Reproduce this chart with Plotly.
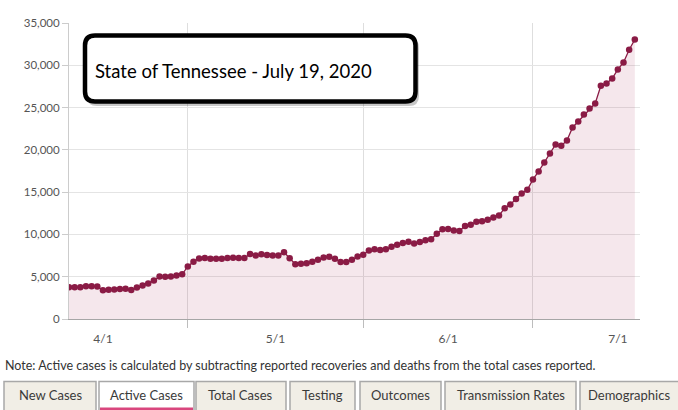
import pandas as pd
import plotly.graph_objects as go

# ---------------- data ----------------
start_date = "2020-04-10"
end_date = "2020-07-19"
active_april = [3740, 3740, 3750, 3860, 3870, 3850, 3400, 3450, 3480, 3560, 3570,
                3430, 3720, 3950, 4200, 4550, 5020, 5010, 5020, 5140, 5290]
active_may = [6220, 6770, 7150, 7200, 7130, 7130, 7130, 7200, 7240, 7210, 7210,
              7680, 7520, 7650, 7560, 7520, 7520, 7900, 7180, 6480, 6520, 6600,
              6780, 7010, 7270, 7360, 7130, 6750, 6750, 7010, 7380]
active_june = [7600, 8100, 8250, 8150, 8250, 8550, 8780, 9000, 9130, 8920, 9100,
               9300, 9420, 10080, 10600, 10650, 10450, 10420, 11000, 11150, 11500,
               11550, 11750, 12000, 12250, 13100, 13550, 14200, 14850, 15280]
active_july = [16500, 17450, 18510, 19580, 20640, 20480, 21110, 22650, 23360, 24190,
               24900, 25490, 27580, 27850, 28440, 29510, 30330, 31830, 33050]
y_ticks = [0, 5000, 10000, 15000, 20000, 25000, 30000, 35000]
title_text = "State of Tennessee - July 19, 2020"
note_text = ("Note: Active cases is calculated by subtracting reported recoveries "
             "and deaths from the total cases reported.")
tab_labels = ["New Cases", "Active Cases", "Total Cases", "Testing", "Outcomes",
              "Transmission Rates", "Demographics"]
active_tab = "Active Cases"

dates = pd.date_range(start_date, end_date, freq="D")
active = active_april + active_may + active_june + active_july

# ---------------- layout helpers (pixel -> paper) ----------------
W, H = 678, 410
ML, MR, MT, MB = 69, 38, 23, 91
PW, PH = W - ML - MR, H - MT - MB


def px(x):
    return (x - ML) / PW


def py(y):
    return (H - MB - y) / PH


def rounded_path(x0, y0, x1, y1, r):
    pts = [
        ("M", [(x0 + r, y0)]),
        ("L", [(x1 - r, y0)]),
        ("Q", [(x1, y0), (x1, y0 + r)]),
        ("L", [(x1, y1 - r)]),
        ("Q", [(x1, y1), (x1 - r, y1)]),
        ("L", [(x0 + r, y1)]),
        ("Q", [(x0, y1), (x0, y1 - r)]),
        ("L", [(x0, y0 + r)]),
        ("Q", [(x0, y0), (x0 + r, y0)]),
    ]
    s = ""
    for cmd, ps in pts:
        s += cmd + " " + " ".join(f"{px(a):.5f},{py(b):.5f}" for a, b in ps) + " "
    return s + "Z"


fig = go.Figure()
fig.add_trace(go.Scatter(
    x=dates, y=active, mode="lines+markers",
    line=dict(color="#8a1b45", width=1.3),
    marker=dict(color="#8a1b45", size=6.5),
    fill="tozeroy", fillcolor="rgba(170,60,100,0.12)",
    hoverinfo="x+y", showlegend=False,
))

shapes = []
# title box shadow and box
shapes.append(dict(type="path", xref="paper", yref="paper",
                   path=rounded_path(87, 38, 419, 106, 10),
                   fillcolor="rgba(0,0,0,0.22)", line=dict(width=0), layer="above"))
shapes.append(dict(type="path", xref="paper", yref="paper",
                   path=rounded_path(85, 35.5, 415.5, 101.5, 10),
                   fillcolor="white", line=dict(color="black", width=4.5), layer="above"))

# tabs
tab_edges = [(4, 96), (99, 194), (196, 286), (290, 355), (360, 441), (445, 576), (580, 682)]
annotations = []
for (a, b), lab in zip(tab_edges, tab_labels):
    is_active = lab == active_tab
    shapes.append(dict(type="rect", xref="paper", yref="paper",
                       x0=px(a), x1=px(b), y0=py(415), y1=py(381.5),
                       fillcolor="white" if is_active else "#f1eee6",
                       line=dict(color="#a8a8a8", width=1.5), layer="above"))
    if is_active:
        shapes.append(dict(type="rect", xref="paper", yref="paper",
                           x0=px(a + 1), x1=px(b - 1), y0=py(410), y1=py(407.5),
                           fillcolor="#d9467e", line=dict(width=0), layer="above"))
    annotations.append(dict(xref="paper", yref="paper", x=px((a + min(b, W)) / 2), y=py(395),
                            text=lab, showarrow=False, xanchor="center", yanchor="middle",
                            font=dict(family="Lato, Noto Sans, sans-serif", size=13, color="#3a3a3a")))

annotations.append(dict(xref="paper", yref="paper", x=px(93), y=py(70.5),
                        text=title_text, showarrow=False, xanchor="left", yanchor="middle",
                        font=dict(family="Lato, Noto Sans, sans-serif", size=18.5, color="black")))
annotations.append(dict(xref="paper", yref="paper", x=px(3), y=py(365),
                        text=note_text, showarrow=False, xanchor="left", yanchor="middle",
                        font=dict(family="Lato, Noto Sans, sans-serif", size=12.5, color="#333333")))

fig.update_layout(
    width=W, height=H,
    margin=dict(l=ML, r=MR, t=MT, b=MB),
    paper_bgcolor="white", plot_bgcolor="white",
    font=dict(family="Lato, Noto Sans, sans-serif", size=11, color="#555555"),
    shapes=shapes, annotations=annotations,
    xaxis=dict(
        type="date",
        range=["2020-04-10 00:00", "2020-07-19 22:00"],
        tick0="2020-04-01", dtick="M1", ticklabelmode="period",
        tickformat="%-m/%-d",
        showgrid=True, gridcolor="#dedede", gridwidth=1,
        ticks="outside", ticklen=8, tickcolor="#bdbdbd",
        showline=True, linecolor="#a6a6a6", linewidth=1.2,
        tickfont=dict(size=12, color="#555555"),
        zeroline=False, fixedrange=True,
    ),
    yaxis=dict(
        range=[0, 35000], tickvals=y_ticks, tickformat=",d",
        showgrid=True, gridcolor="#e4e4e4", gridwidth=1,
        ticks="outside", ticklen=6, tickcolor="#cccccc",
        showline=True, linecolor="#cccccc", linewidth=1,
        tickfont=dict(size=11.5, color="#555555"),
        zeroline=False, fixedrange=True,
    ),
)

fig.write_html("out.html", config={"displayModeBar": False},
               post_script="document.body.style.margin='0';document.body.style.overflow='hidden';")
